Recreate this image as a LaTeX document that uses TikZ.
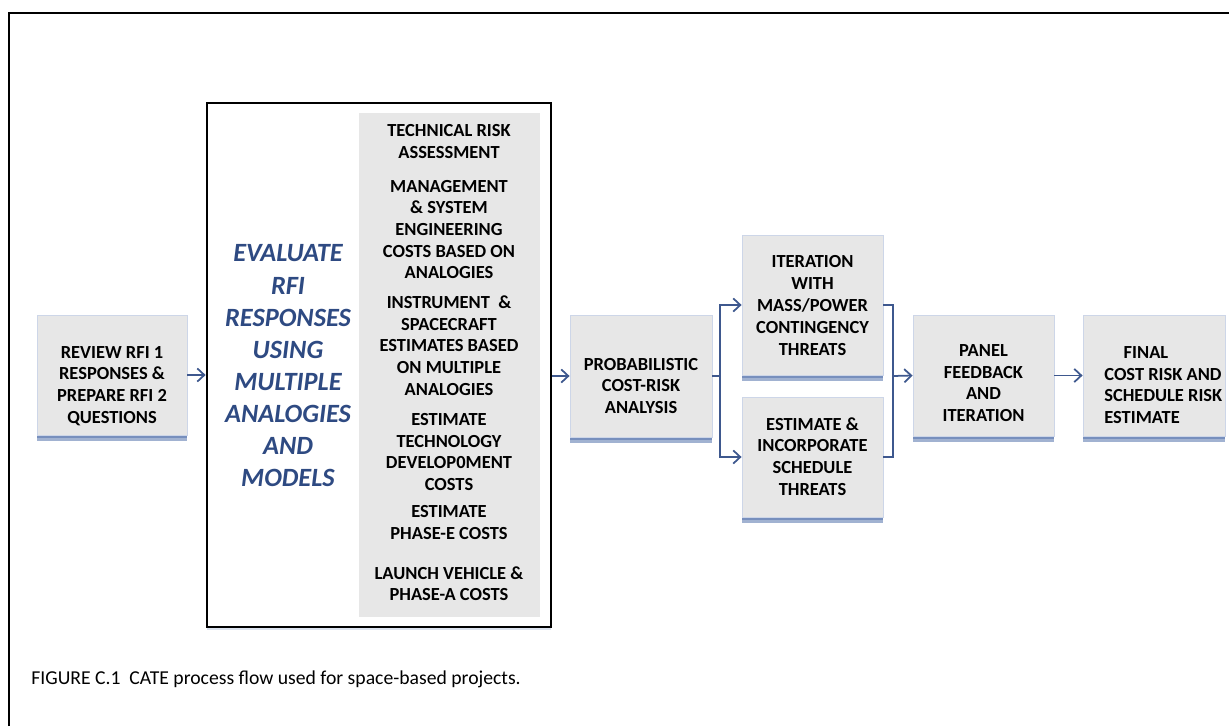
\documentclass[tikz,border=0pt]{standalone}
\usepackage{fontspec}
\setmainfont{Carlito}
\usepackage{tikz}
\usetikzlibrary{arrows.meta,positioning,calc,shadows}
\definecolor{boxgray}{RGB}{231,231,231}
\definecolor{boxedge}{RGB}{205,214,232}
\definecolor{shadowblue}{RGB}{84,114,172}
\definecolor{flowblue}{RGB}{62,88,142}
\definecolor{titleblue}{RGB}{46,74,130}

\begin{document}
\begin{tikzpicture}[
    x=0.02cm, y=-0.02cm,
    box/.style={fill=boxgray, draw=boxedge, line width=0.5pt, inner sep=0pt,
        double copy shadow={shadow xshift=0pt, shadow yshift=-1.7pt, fill=shadowblue, draw=none, opacity=0.55}},
    boxtext/.style={font=\fontsize{10.5}{12.4}\selectfont\bfseries, align=center, inner sep=0pt},
    item/.style={font=\fontsize{10.5}{12.3}\selectfont\bfseries, align=center, inner sep=0pt},
    flow/.style={->, flowblue, line width=1pt},
    link/.style={flowblue, line width=0.7pt},
    >={Straight Barb[length=4pt,width=7.5pt]}
]
\useasboundingbox (0,0) rectangle (1229,726);

% Frame
\draw[line width=1.3pt] (9,726) -- (9,13) -- (1229,13);

% Review step
\node[box, minimum width=3cm, minimum height=2.4cm] (review) at (112,375) {};
\node[boxtext] (review-t) at (112,386) {REVIEW RFI 1\\RESPONSES \&\\PREPARE RFI 2\\QUESTIONS};

% Evaluation block
\node[draw, line width=1.6pt, fill=white, minimum width=6.88cm, minimum height=10.48cm,
    drop shadow={shadow xshift=0pt, shadow yshift=-1.5pt, fill=shadowblue!35, opacity=0.6}] (evaluate) at (379,365) {};
\node[fill=boxgray, minimum width=3.62cm, minimum height=10.08cm, inner sep=0pt] (panel) at (449.5,365) {};
\node[font=\fontsize{15}{18.3}\selectfont\bfseries\itshape, text=titleblue, align=center, inner sep=0pt]
    (evaluate-t) at (288,366) {EVALUATE\\RFI\\RESPONSES\\USING\\MULTIPLE\\ANALOGIES\\AND\\MODELS};

\node[item] (tech)   at (449,141.5) {TECHNICAL RISK\\ASSESSMENT};
\node[item] (mgmt)   at (449,229.5) {MANAGEMENT\\\& SYSTEM\\ENGINEERING\\COSTS BASED ON\\ANALOGIES};
\node[item] (instr)  at (449,345.5) {INSTRUMENT \ \&\\SPACECRAFT\\ESTIMATES BASED\\ON MULTIPLE\\ANALOGIES};
\node[item] (techdev) at (449,452)  {ESTIMATE\\TECHNOLOGY\\DEVELOP0MENT\\COSTS};
\node[item] (phasee) at (449,522.5) {ESTIMATE\\PHASE-E COSTS};
\node[item] (launch) at (449,583.5) {LAUNCH VEHICLE \&\\PHASE-A COSTS};

% Cost-risk analysis
\node[box, minimum width=2.84cm, minimum height=2.44cm] (prob) at (641,376) {};
\node[boxtext] (prob-t) at (641,386) {PROBABILISTIC\\COST-RISK\\ANALYSIS};

\node[box, minimum width=2.82cm, minimum height=2.8cm] (iter) at (812.5,305) {};
\node[boxtext] (iter-t) at (812.5,305.5) {ITERATION\\WITH\\MASS/POWER\\CONTINGENCY\\THREATS};

\node[box, minimum width=2.82cm, minimum height=2.4cm] (sched) at (812.5,457) {};
\node[boxtext] (sched-t) at (812.5,456.5) {ESTIMATE \&\\INCORPORATE\\SCHEDULE\\THREATS};

\node[box, minimum width=2.82cm, minimum height=2.42cm] (feedback) at (983.5,375.5) {};
\node[boxtext] (feedback-t) at (983.5,383) {PANEL\\FEEDBACK\\AND\\ITERATION};

\node[box, minimum width=2.84cm, minimum height=2.42cm] (final) at (1154,375.5) {};
\node[boxtext, align=left, anchor=west] (final-t) at (1104,385) {\hspace*{1.05em}FINAL\\COST RISK AND\\SCHEDULE RISK\\ESTIMATE};

% Connectors
\draw[flow] (review.east) -- (review.east -| evaluate.west);
\draw[flow] (evaluate.east |- prob.west) -- (prob.west);

\coordinate (split) at (720,376);
\draw[link] (prob.east) -- (split);
\draw[flow] (split) |- (iter.west);
\draw[flow] (split) |- (sched.west);

\coordinate (join) at (893,376);
\draw[link] (iter.east) -| (join) |- (sched.east);
\draw[flow] (join) -- (feedback.west);
\draw[flow] (feedback.east) -- (final.west);

% Caption
\node[anchor=west, inner sep=0pt, font=\fontsize{11.2}{13}\selectfont] (caption) at (31,679)
    {FIGURE C.1\ \ CATE process flow used for space-based projects.};

\end{tikzpicture}
\end{document}
